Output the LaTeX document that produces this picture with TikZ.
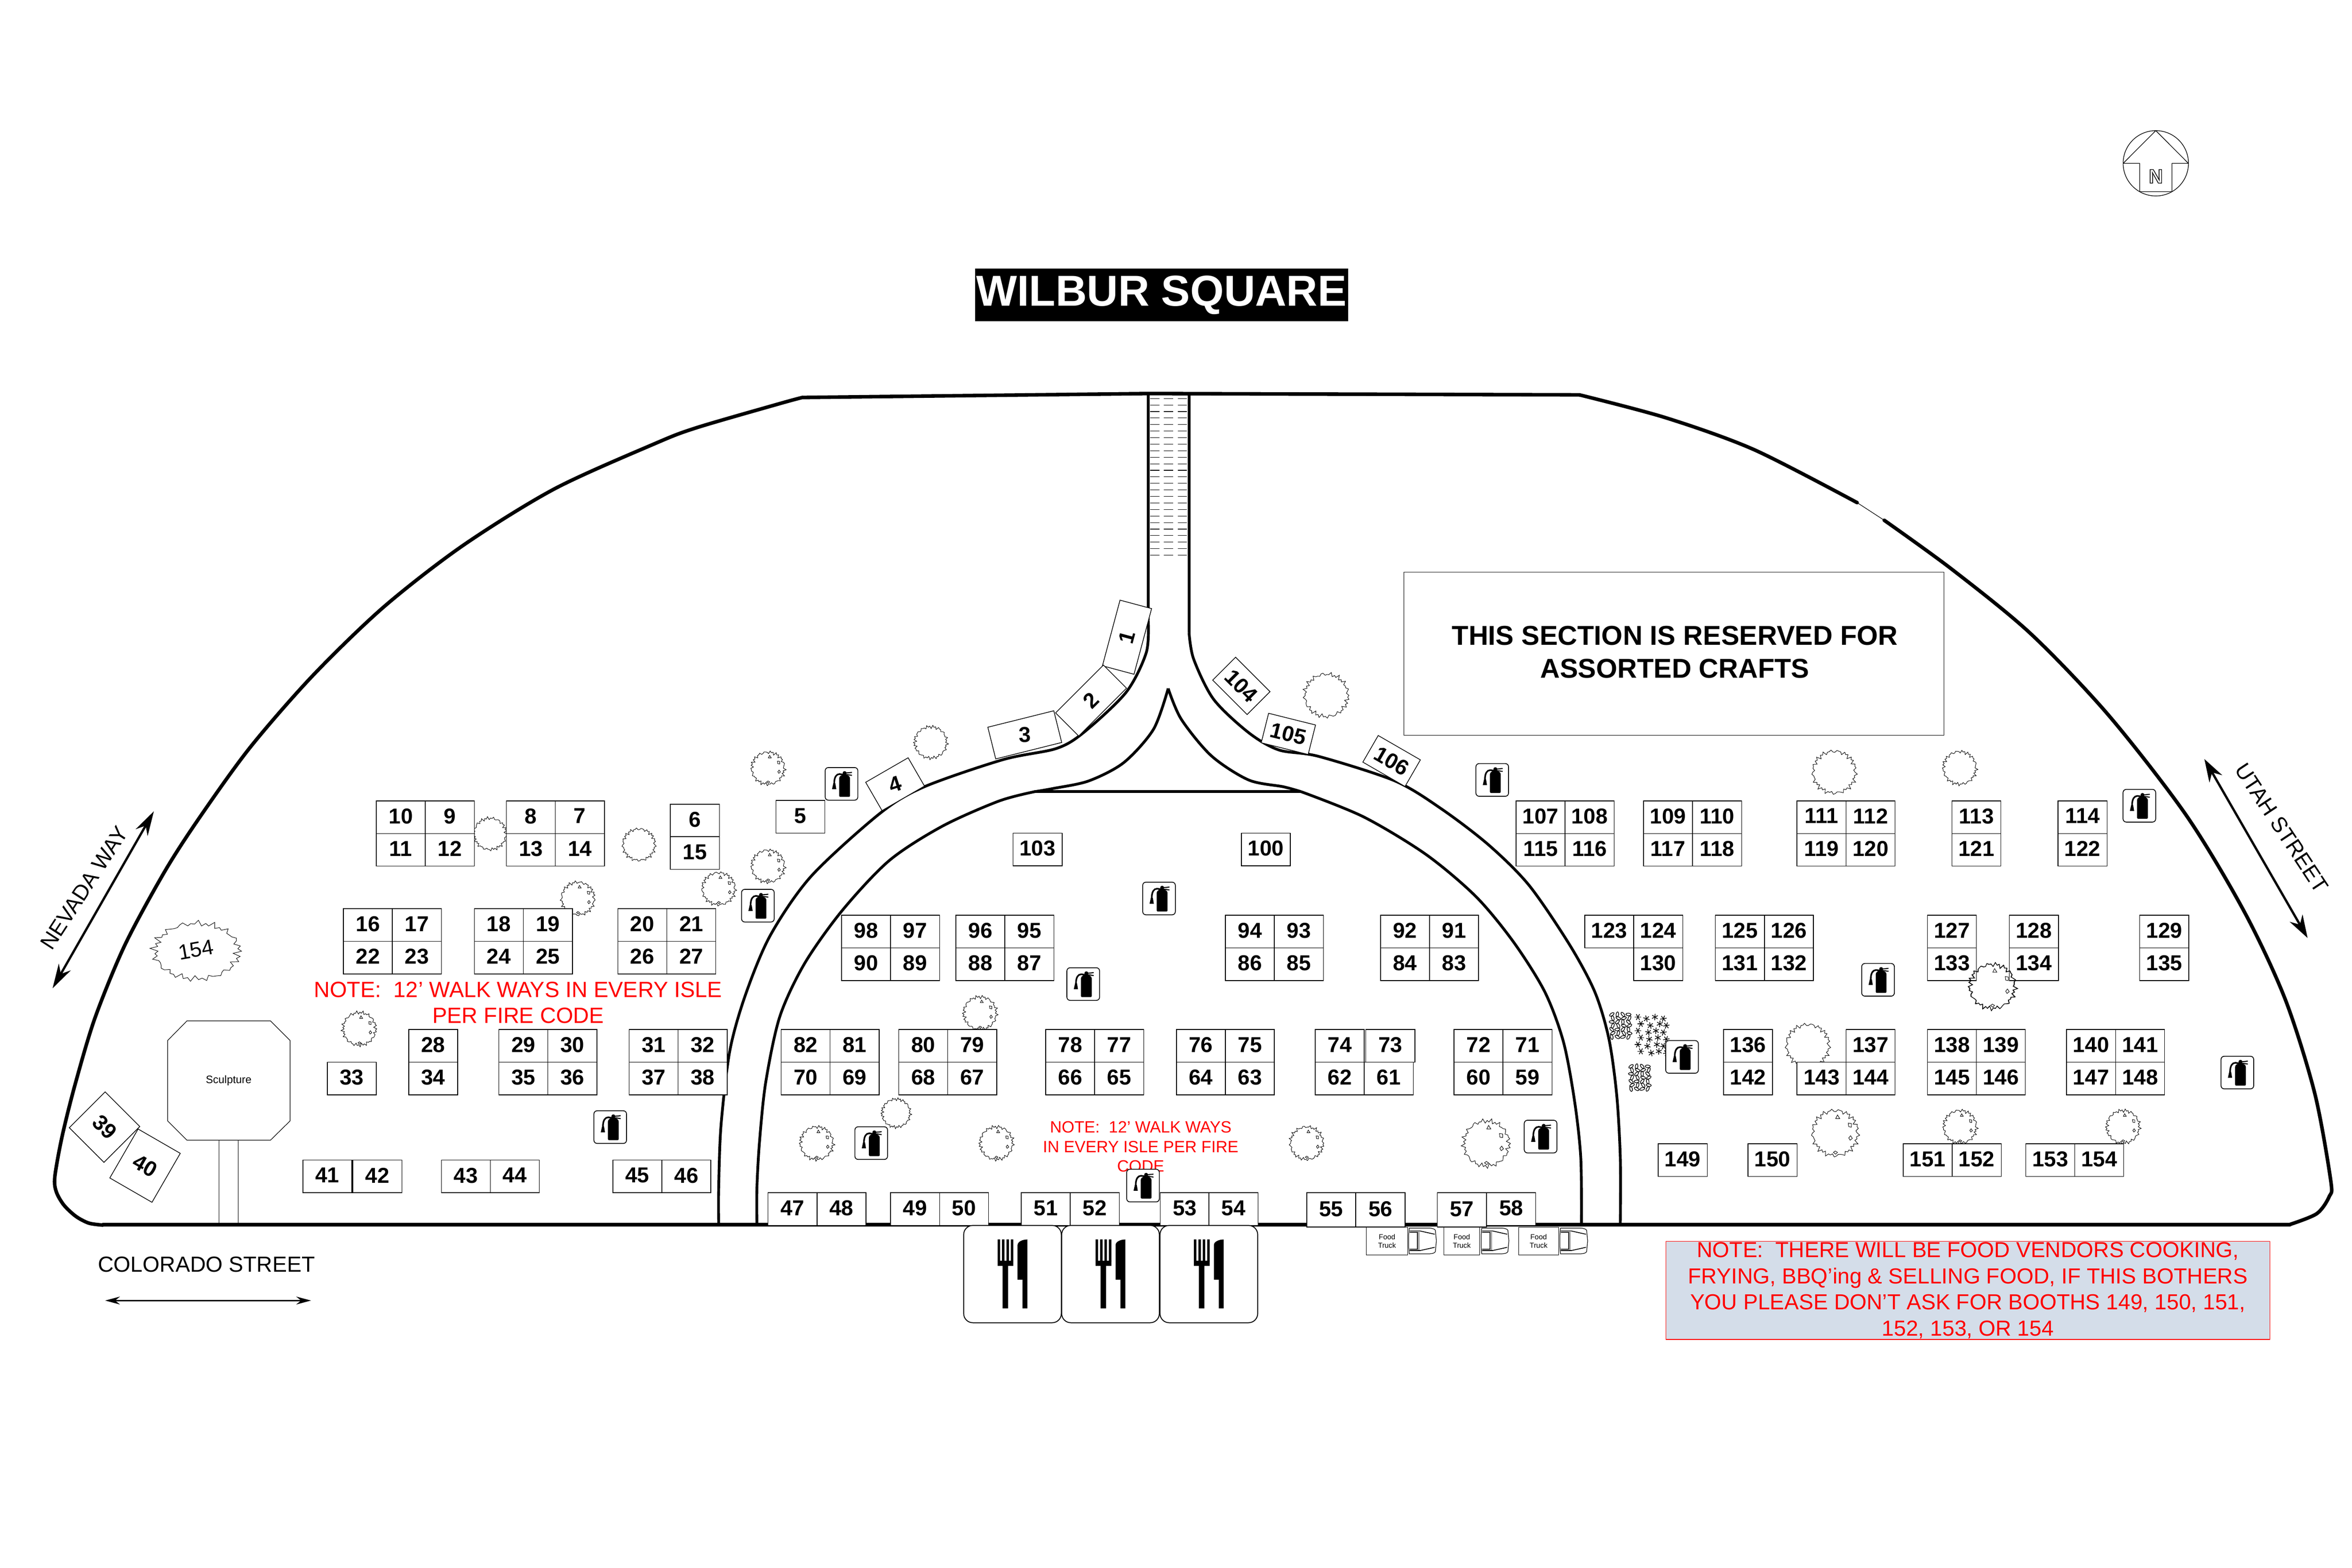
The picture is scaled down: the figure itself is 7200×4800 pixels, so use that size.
\documentclass[tikz,border=0pt]{standalone}
\usepackage{fontspec}
\setmainfont{Liberation Sans}
\usetikzlibrary{arrows.meta}
\definecolor{notebg}{RGB}{212,221,233}
\definecolor{notered}{RGB}{255,0,0}
\newcommand\fsz[2]{\fontsize{#1}{#2}\selectfont}
\tikzset{
 booth/.style={draw,fill=white,line width=.6pt,minimum width=1.5cm,minimum height=1cm,inner sep=0pt,anchor=north west,text depth=2pt,font=\fsz{18.8}{22}\bfseries},
 rbooth/.style={draw,fill=white,line width=.6pt,inner sep=0pt,font=\fsz{18.8}{22}\bfseries},
 outerline/.style={line width=3.1pt,line join=round,line cap=round},
 roadline/.style={line width=2.4pt,line join=round},
 thinline/.style={line width=.5pt},
 treeline/.style={line width=.4pt},
 redtext/.style={text=notered,align=center,inner sep=0pt},
 fire/.pic={
  \draw[line width=.7pt,fill=white,rounded corners=2.8pt] (0,0) rectangle (100,100);
  \fill[black,rounded corners=1pt] (43,90) -- (43,36) .. controls (43,26) and (52,22) .. (59,22) .. controls (67,22) and (76,26) .. (76,36) -- (76,90) -- cycle;
  \fill[black] (59.5,17) circle[radius=6];
  \draw[line width=1.4pt] (58,22) -- (44,20) .. controls (34,20) and (29,30) .. (28,42) -- (27,64);
  \fill[black] (21,66) -- (34,66) -- (31,48) -- (25,48) -- cycle;
  \draw[line width=.9pt] (62,17) -- (82,15) (62,21) -- (82,24);
 },
 utensil/.pic={
  \draw[line width=.8pt,fill=white,rounded corners=8pt] (0,0) rectangle (299,298);
  \fill[black] (104,43) rectangle (111.5,110) (117.5,43) rectangle (125,110) (131,43) rectangle (138.5,110) (144.5,43) rectangle (152,110);
  \fill[black] (104,108) rectangle (152,124) (119,124) rectangle (136,254);
  \fill[black] (165,166) -- (165,60) .. controls (165,50) and (180,43) .. (195,43) -- (195,254) -- (180,254) -- (180,166) -- cycle;
 },
 truckcab/.pic={
  \draw[line width=.5pt,fill=white] (2,3) -- (60,3) .. controls (72,3) and (80,6) .. (82,10) -- (85,42) -- (82,75) .. controls (80,80) and (72,82) .. (60,82) -- (2,82) -- (0,60) -- (0,25) -- cycle;
  \draw[line width=.7pt] (3,12) -- (35,12) -- (80,22) (3,16) -- (27,16) -- (27,68) -- (3,68) (3,72) -- (35,72) -- (80,62);
  \draw[line width=1.4pt,gray!70] (31,15) -- (31,70);
 }
}
% jagged tree crown: x, y, x radius, y radius
\newcommand\treeP[5][]{\begin{scope}[shift={(#2,#3)},xscale=#4/50,yscale=#5/50,#1]
  \draw[treeline] plot[samples=70,domain=0:354,variable=\a] ({50*(1+.07*sin(37*\a+#2/10)+.055*sin(17*\a))*cos(\a)},{50*(1+.07*sin(37*\a+#2/10)+.055*sin(17*\a))*sin(\a)}) -- cycle;
\end{scope}}
\newcommand\treeM[4]{\treeP{#1}{#2}{#3}{#4}\begin{scope}[shift={(#1,#2)},xscale=#3/50,yscale=#4/50]
  \draw[treeline] (5,-40) -- (10,-32) -- (1,-32) -- cycle;
  \draw[treeline] (29,-22) -- (36,-21) -- (36,-13) -- (30,-14) -- cycle;
  \draw[treeline] (34,6) -- (38,12) -- (33,16) -- (30,11) -- cycle;
  \draw[treeline] (0,40) -- (5,43) -- (1,47) -- (-4,43) -- cycle;
\end{scope}}
\newcommand\shrub[2]{\begin{scope}[shift={(#1,#2)}]
  \foreach \i in {0,1,2,3} \foreach \j in {0,...,6}
    \draw[line width=.55pt] ({8+\i*17+mod(\j,2)*3},{6+\j*11.5}) ellipse[x radius=8,y radius=4,rotate={35+47*\i+71*\j}];
\end{scope}}
\newcommand\stars[2]{\begin{scope}[shift={(#1,#2)}]
  \foreach \i in {0,1,2,3} \foreach \j in {0,...,5}
    \foreach \r in {0,60,120}
      \draw[line width=.6pt] ({12+\i*26+mod(\j,2)*9+mod(\i*\j,3)*3},{9+\j*21+mod(\i,2)*5}) ++({\r+\i*17}:{10}) -- ++({\r+\i*17+180}:{20});
\end{scope}}
\newcommand\bloc[6]{%
  \node[booth] (b#3) at (#1,#2) {#3};
  \node[booth] (b#4) at (#1+150,#2) {#4};
  \node[booth] (b#5) at (#1,#2+100) {#5};
  \node[booth] (b#6) at (#1+150,#2+100) {#6};}
\begin{document}
\begin{tikzpicture}[x=0.01cm,y=-0.01cm]
\useasboundingbox (0,0) rectangle (7200,4800);
\fill[white] (0,0) rectangle (7200,4800);

% north arrow
\draw[line width=.55pt] (6599.3,500) circle[radius=100];
\draw[line width=.55pt,line join=round] (6499.5,500) -- (6599.3,400) -- (6699,500) -- (6648.7,500) -- (6648.7,586.7) -- (6550,586.7) -- (6550,500) -- cycle;
\node[inner sep=0pt,font=\fsz{17}{20}\bfseries] (north) at (6599.5,540) {\special{pdf:code q 1 Tr 0.6 w}N\special{pdf:code Q}};

% title
\node[fill=black,text=white,minimum width=11.41cm,minimum height=1.61cm,inner sep=0pt,font=\fsz{37.7}{42}\bfseries] (title) at (3555.5,903.5) {WILBUR SQUARE};

% outer boundary
\draw[outerline] (2456,1217) -- (3516,1205) -- (4835,1209);
\draw[outerline] plot[smooth] coordinates {(2456,1217) (2386,1236) (2131,1310) (2003,1359) (1697,1497) (1416,1671) (1174,1859) (957,2069) (766,2288) (613,2500) (505,2667) (383,2892) (291,3116) (230,3320) (190,3480) (168,3602) (172,3648) (195,3689) (232,3724) (272,3745) (315,3751)};
\draw[outerline] plot[smooth] coordinates {(4835,1209) (5099,1279) (5370,1377) (5685,1539)};
\draw[thinline] (5685,1539) -- (5768,1593);
\draw[outerline] plot[smooth] coordinates {(5768,1593) (5975,1743) (6215,1939) (6454,2189) (6693,2497) (6871,2793) (6996,3061) (7086,3348) (7135,3616) (7130,3664) (7092,3716) (7010,3749)};
\draw[outerline,line width=3.3pt] (315,3750) -- (7010,3750);

% central road
\draw[roadline] (3515,1205) -- (3515,1900);
\draw[roadline] (3640,1205) -- (3640,1937);
\foreach \k in {0,...,24}
  \draw[line width=.45pt,dash pattern=on 8pt off 4pt] (3521,1220+20*\k) -- (3636,1220+20*\k);
\draw[roadline] plot[smooth] coordinates {(3515,1900) (3509,1998) (3447,2120) (3317,2243) (3233,2292) (3070,2326) (2827,2410) (2693,2491) (2483,2683) (2358,2864) (2282,3046) (2234,3218) (2207,3448) (2200,3639) (2200,3749)};
\draw[roadline] plot[smooth] coordinates {(3640,1937) (3654,2018) (3715,2141) (3822,2243) (3914,2296) (4037,2316) (4270,2391) (4413,2477) (4557,2587) (4681,2711) (4805,2893) (4882,3037) (4925,3180) (4949,3352) (4960,3544) (4960,3749)};
\draw[roadline] plot[smooth] coordinates {(3167,2424) (3057,2453) (2884,2530) (2722,2635) (2578,2788) (2463,2950) (2387,3113) (2344,3314) (2325,3496) (2317,3639) (2317,3749)};
\draw[roadline] plot[smooth] coordinates {(3983,2424) (4174,2501) (4365,2616) (4518,2745) (4633,2884) (4729,3037) (4786,3190) (4820,3371) (4839,3544) (4841,3749)};
\draw[roadline] (3167,2424) -- (3983,2424);
\draw[roadline] plot[smooth] coordinates {(3576,2108) (3531,2233) (3440,2335) (3333,2391) (3225,2414) (3167,2424)};
\draw[roadline] plot[smooth] coordinates {(3576,2108) (3616,2202) (3708,2314) (3822,2388) (3929,2409) (3983,2424)};

% trees under the booths
\treeM{2351}{2352}{50}{49}
\treeM{2351}{2652}{50}{49}
\treeM{2200}{2721}{50}{49}
\treeP{1500}{2553}{49}{48}
\treeP{1956}{2586}{49}{48}
\treeM{1769}{2751}{50}{50}
\treeM{1100}{3150}{50}{50}
\treeP{2849}{2273}{49}{48}
\treeP{4060}{2129}{66}{65}
\treeM{3000}{3102}{50}{50}
\treeP{2743}{3408}{43}{43}
\treeM{2500}{3500}{50}{50}
\treeM{3050}{3500}{50}{50}
\treeM{4000}{3500}{50}{50}
\treeM{4550}{3501}{69}{69}
\treeP{5615}{2364}{65}{64}
\treeP{5999}{2351}{50}{50}
\treeP{5534}{3201}{65}{64}
\treeM{5618}{3469}{69}{69}
\treeM{6000}{3450}{50}{50}
\treeM{6499}{3450}{50}{50}

% shrubs
\shrub{4926}{3100}
\shrub{4985}{3259}
\stars{5002}{3105}

% booths in blocks
\bloc{1151}{2451}{10}{9}{11}{12}
\bloc{1549}{2451}{8}{7}{13}{14}
\bloc{1050}{2781}{16}{17}{22}{23}
\bloc{1451}{2781}{18}{19}{24}{25}
\bloc{1890}{2781}{20}{21}{26}{27}
\bloc{1526}{3151}{29}{30}{35}{36}
\bloc{1925}{3151}{31}{32}{37}{38}
\bloc{2575}{2801}{98}{97}{90}{89}
\bloc{2925}{2801}{96}{95}{88}{87}
\bloc{3750}{2801}{94}{93}{86}{85}
\bloc{4225}{2801}{92}{91}{84}{83}
\bloc{2390}{3151}{82}{81}{70}{69}
\bloc{2750}{3151}{80}{79}{68}{67}
\bloc{3200}{3151}{78}{77}{66}{65}
\bloc{3600}{3151}{76}{75}{64}{63}
\bloc{4450}{3151}{72}{71}{60}{59}
\bloc{4640}{2451}{107}{108}{115}{116}
\bloc{5030}{2451}{109}{110}{117}{118}
\bloc{5500}{2451}{111}{112}{119}{120}
\bloc{5250}{2801}{125}{126}{131}{132}
\bloc{5899}{3151}{138}{139}{145}{146}
\bloc{6325}{3151}{140}{141}{147}{148}

% single booths
\foreach \x/\y/\l in {2051/2461/6,2051/2561/15,1250/3151/28,1250/3251/34,1001/3251/33,
  926/3551/41,1079/3551/42,1350/3551/43,1500/3551/44,1875/3551/45,2025/3551/46,
  2374/2450/5,3100/2550/103,3799/2550/100,
  2350/3651/47,2500/3651/48,2725/3651/49,2875/3651/50,3125/3651/51,3275/3651/52,
  3551/3651/53,3700/3651/54,5974/2451/113,5974/2551/121,6299/2451/114,6299/2551/122,
  4850/2801/123,5000/2801/124,5000/2901/130,5899/2801/127,5899/2901/133,6150/2801/128,6150/2901/134,
  6549/2801/129,6549/2901/135,5275/3151/136,5275/3251/142,5650/3151/137,5500/3251/143,5650/3251/144,
  5075/3501/149,5350/3501/150,5825/3501/151,5975/3501/152,6200/3501/153,6350/3501/154,4550/3651/58,
  4025/3151/74,4180/3151/73,4025/3251/62,4175/3251/61}
  \node[booth] (b\l) at (\x,\y) {\l};
\foreach \x/\y/\l in {3999/3651/55,4150/3651/56,4399/3651/57}
  \node[booth,minimum height=1.05cm] (b\l) at (\x,\y) {\l};

% rotated booths
\node[rbooth,minimum width=2.08cm,minimum height=1cm,rotate=75] (b1) at (3450,1951) {1};
\node[rbooth,minimum width=2.07cm,minimum height=1cm,rotate=45] (b2) at (3340,2145) {2};
\node[rbooth,minimum width=2.08cm,minimum height=1cm,rotate=14] (b3) at (3137,2250) {\rotatebox{-12}{3}};
\node[rbooth,minimum width=1.5cm,minimum height=1cm,rotate=30] (b4) at (2740,2401) {\rotatebox{-12}{4}};
\node[rbooth,minimum width=1.49cm,minimum height=.99cm,rotate=-45] (b104) at (3800,2100) {104};
\node[rbooth,minimum width=1.48cm,minimum height=.93cm,rotate=-14] (b105) at (3944,2247) {105};
\node[rbooth,minimum width=1.49cm,minimum height=.94cm,rotate=-30] (b106) at (4260,2330) {106};
\node[rbooth,minimum width=1.5cm,minimum height=1.55cm,rotate=-45] (b39) at (320,3451) {39};
\node[rbooth,minimum width=1.49cm,minimum height=1.73cm,rotate=-30] (b40) at (444,3569) {40};

% trees over booths
\treeM{6099}{3020}{68}{68}
\treeP{6099}{3020}{70}{67}
\treeP[rotate=10]{602}{2912}{128}{85}
\node[inner sep=0pt,rotate=10,font=\fsz{18.5}{22}] (blob154) at (600,2908) {154};

% reserved section
\node[draw,line width=.5pt,minimum width=16.52cm,minimum height=4.99cm,inner sep=0pt] (craftsbox) at (5124,2001.5) {};
\node[inner sep=0pt,align=center,font=\fsz{23.7}{28.7}\bfseries] (crafts) at (5127,1996) {THIS SECTION IS RESERVED FOR\\ASSORTED CRAFTS};

% sculpture
\draw[line width=.5pt] (670.6,3491) -- (670.6,3749) (729,3491) -- (729,3749);
\draw[line width=.5pt,fill=white] (572,3126) -- (828,3126) -- (888,3186) -- (888,3432) -- (828,3491) -- (572,3491) -- (513,3432) -- (513,3186) -- cycle;
\node[inner sep=0pt,font=\fsz{9.4}{11}] (sculp) at (700,3308) {Sculpture};

% notes
\node[redtext,font=\fsz{19.2}{22.5}] (note1) at (1586,3070) {NOTE:\ \ 12' WALK WAYS IN EVERY ISLE\\PER FIRE CODE};
\node[redtext,font=\fsz{14.2}{17}] (note2) at (3492,3511) {NOTE:\ \ 12' WALK WAYS\\IN EVERY ISLE PER FIRE\\CODE};
\node[fill=notebg,draw=notered,line width=.5pt,minimum width=18.48cm,minimum height=3cm,inner sep=0pt,text=notered,align=center,font=\fsz{18.95}{22.76}] (note3) at (6024,3951) {NOTE:\ \ THERE WILL BE FOOD VENDORS COOKING,\\FRYING, BBQ’ing \& SELLING FOOD, IF THIS BOTHERS\\YOU PLEASE DON’T ASK FOR BOOTHS 149, 150, 151,\\152, 153, OR 154};

% fire extinguishers
\foreach \x/\y in {2526/2350,2270/2723,3498/2701,3266/2963,2617/3450,3449/3580,4518/2338,4666/3430,1818/3401,5099/3186,5699/2950,6499/2417,6799/3234}
  \pic at (\x,\y) {fire};

% food signs
\foreach \x in {2950,3250,3551}
  \pic at (\x,3752) {utensil};

% food trucks
\node[draw,fill=white,line width=.4pt,minimum width=1.27cm,minimum height=.85cm,inner sep=0pt,align=center,font=\fsz{6.3}{7.4}] (truck1) at (4246,3800) {Food\\Truck};
\node[draw,fill=white,line width=.4pt,minimum width=1.1cm,minimum height=.85cm,inner sep=0pt,align=center,font=\fsz{6.3}{7.4}] (truck2) at (4475,3800) {Food\\Truck};
\node[draw,fill=white,line width=.4pt,minimum width=1.22cm,minimum height=.85cm,inner sep=0pt,align=center,font=\fsz{6.3}{7.4}] (truck3) at (4710,3800) {Food\\Truck};
\pic at (4312,3757) {truckcab};
\pic at (4534,3757) {truckcab};
\pic at (4775,3757) {truckcab};

% streets
\node[inner sep=0pt,font=\fsz{19}{22}] (colorado) at (632,3871) {COLORADO STREET};
\coordinate (cw) at (322,3982);
\coordinate (ce) at (952,3982);
\draw[line width=1.3pt,{Stealth[length=.45cm,width=.24cm]}-{Stealth[length=.45cm,width=.24cm]}] (cw) -- (ce);
\node[inner sep=0pt,rotate=57,font=\fsz{19}{22}] (nevada) at (258,2718) {NEVADA WAY};
\coordinate (ns) at (161,3026);
\coordinate (nn) at (471,2484);
\draw[line width=2pt,{Stealth[length=.75cm,width=.42cm]}-{Stealth[length=.75cm,width=.42cm]}] (ns) -- (nn);
\node[inner sep=0pt,rotate=-56.5,font=\fsz{19}{22}] (utah) at (6985,2535) {UTAH STREET};
\coordinate (un) at (6748,2324);
\coordinate (us) at (7064,2872);
\draw[line width=2pt,{Stealth[length=.7cm,width=.45cm]}-{Stealth[length=.7cm,width=.45cm]}] (un) -- (us);
\end{tikzpicture}
\end{document}
